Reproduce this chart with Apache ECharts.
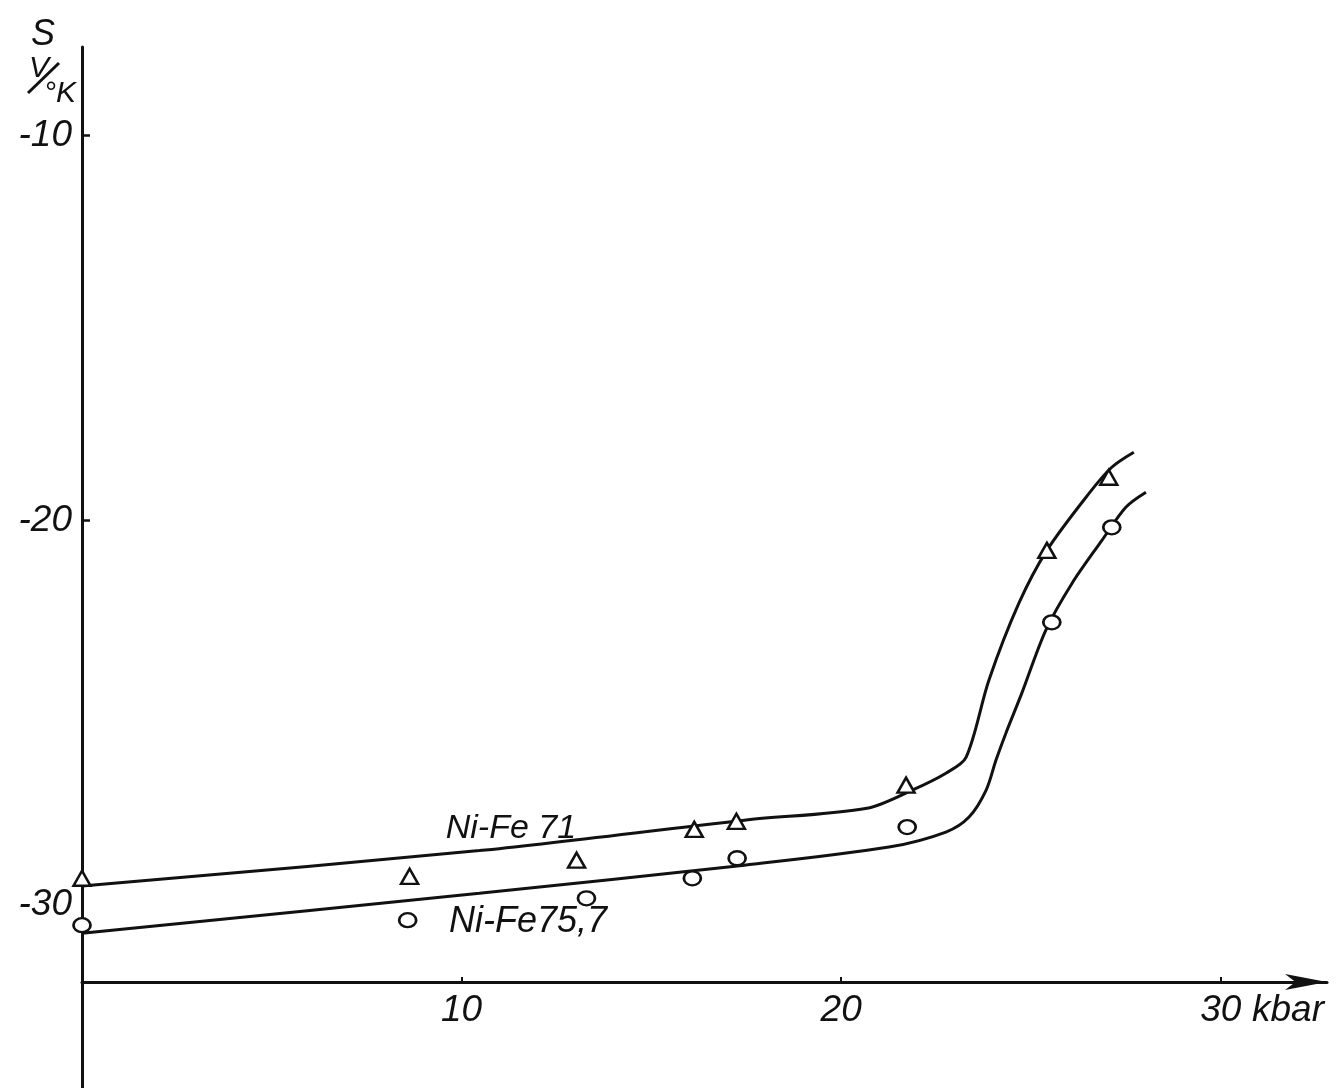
<!DOCTYPE html>
<html>
<head>
<meta charset="utf-8">
<script src="https://cdn.jsdelivr.net/npm/echarts@6/dist/echarts.min.js"></script>
<style>
  html, body { margin: 0; padding: 0; background: #ffffff; }
  #chart { width: 1340px; height: 1088px; }
</style>
</head>
<body>
<div id="chart"></div>
<script>
// Thermoelectric power S of Ni-Fe alloys versus pressure
const xTicks = [10, 20, 30];
const yTicks = [-30, -20, -10];

// Ni-Fe 71 — measured points (triangles)
const ni71PointsX = [0, 8.63, 13.03, 16.13, 17.24, 21.71, 25.42, 27.05];
const ni71PointsY = [-29.30, -29.25, -28.83, -28.03, -27.82, -26.88, -20.78, -18.88];
// Ni-Fe 71 — drawn curve
const ni71CurveX = [0, 10.47, 17.45, 20.68, 21.87, 22.76, 23.29, 23.89, 24.68, 25.42, 26.53, 27.13, 27.71];
const ni71CurveY = [-29.50, -28.58, -27.79, -27.48, -27.01, -26.57, -26.16, -24.16, -22.16, -20.78, -19.30, -18.62, -18.23];

// Ni-Fe 75,7 — measured points (circles)
const ni757PointsX = [0, 8.58, 13.29, 16.08, 17.26, 21.74, 25.55, 27.13];
const ni757PointsY = [-30.52, -30.39, -29.82, -29.30, -28.78, -27.97, -22.65, -20.18];
// Ni-Fe 75,7 — drawn curve
const ni757CurveX = [0, 10.47, 17.45, 21.26, 22.76, 23.37, 23.82, 24.08, 24.34, 24.76, 25.39, 26.08, 26.87, 27.50, 28.03];
const ni757CurveY = [-30.73, -29.69, -28.96, -28.49, -28.10, -27.71, -27.01, -26.23, -25.53, -24.49, -22.86, -21.64, -20.52, -19.66, -19.27];

const seriesNames = ['Ni-Fe 71', 'Ni-Fe75,7'];
const curveLabelAt = [[11.3, -28.0], [11.75, -30.44]];

const zip = (xs, ys) => xs.map((x, i) => [x, ys[i]]);
const INK = '#111111';
const FONT = '"Liberation Sans", "DejaVu Sans", sans-serif';

const chart = echarts.init(document.getElementById('chart'), null, { renderer: 'canvas' });

const curveStyle = { color: INK, width: 3 };

chart.setOption({
  backgroundColor: '#ffffff',
  animation: false,
  grid: { left: 82, right: 13, top: 47, bottom: 0, containLabel: false, outerBoundsMode: 'none' },
  xAxis: {
    type: 'value',
    min: 0,
    max: 32.8,
    position: 'bottom',
    offset: -106,
    splitLine: { show: false },
    axisLine: {
      show: true,
      onZero: false,
      symbol: ['none', 'arrow'],
      symbolSize: [12, 42],
      lineStyle: { color: INK, width: 3 }
    },
    axisTick: {
      show: true,
      customValues: xTicks,
      inside: true,
      length: 5,
      lineStyle: { color: INK, width: 2 }
    },
    axisLabel: {
      customValues: xTicks,
      margin: 10,
      color: INK,
      fontFamily: FONT,
      fontStyle: 'italic',
      fontSize: 37
    }
  },
  yAxis: {
    type: 'value',
    min: -34.75,
    max: -7.7,
    splitLine: { show: false },
    axisLine: { show: true, onZero: false, lineStyle: { color: INK, width: 3 } },
    axisTick: {
      show: true,
      customValues: [-20, -10],
      inside: true,
      length: 8,
      lineStyle: { color: INK, width: 2.5 }
    },
    axisLabel: {
      customValues: yTicks,
      margin: 10,
      color: INK,
      fontFamily: FONT,
      fontStyle: 'italic',
      fontSize: 37
    }
  },
  graphic: [
    { type: 'text', left: 31, top: 17, style: { text: 'S', fill: INK, font: 'italic 36px ' + FONT } },
    { type: 'text', left: 29, top: 54, style: { text: 'V', fill: INK, font: 'italic 30px ' + FONT } },
    { type: 'line', shape: { x1: 28, y1: 93, x2: 59, y2: 63 }, style: { stroke: INK, lineWidth: 3 } },
    { type: 'text', left: 44, top: 79, style: { text: '°K', fill: INK, font: 'italic 30px ' + FONT } },
    { type: 'text', left: 1252, top: 992, style: { text: 'kbar', fill: INK, font: 'italic 37px ' + FONT } }
  ],
  series: [
    {
      name: seriesNames[0],
      type: 'line',
      data: zip(ni71CurveX, ni71CurveY),
      smooth: 0.3,
      showSymbol: false,
      lineStyle: curveStyle,
      markPoint: {
        symbol: 'circle',
        symbolSize: 0,
        data: [{ coord: curveLabelAt[0] }],
        label: {
          show: true,
          position: 'inside',
          formatter: seriesNames[0],
          color: INK,
          fontFamily: FONT,
          fontStyle: 'italic',
          fontSize: 34
        }
      }
    },
    {
      name: seriesNames[1],
      type: 'line',
      data: zip(ni757CurveX, ni757CurveY),
      smooth: 0.3,
      showSymbol: false,
      lineStyle: curveStyle,
      markPoint: {
        symbol: 'circle',
        symbolSize: 0,
        data: [{ coord: curveLabelAt[1] }],
        label: {
          show: true,
          position: 'inside',
          formatter: seriesNames[1],
          color: INK,
          fontFamily: FONT,
          fontStyle: 'italic',
          fontSize: 36
        }
      }
    },
    {
      name: seriesNames[0] + ' points',
      type: 'scatter',
      data: zip(ni71PointsX, ni71PointsY),
      symbol: 'triangle',
      symbolSize: [17, 15],
      itemStyle: { color: '#ffffff', borderColor: INK, borderWidth: 2.5, opacity: 1 },
      z: 5
    },
    {
      name: seriesNames[1] + ' points',
      type: 'scatter',
      data: zip(ni757PointsX, ni757PointsY),
      symbol: 'circle',
      symbolSize: [17, 14],
      itemStyle: { color: '#ffffff', borderColor: INK, borderWidth: 2.5, opacity: 1 },
      z: 5
    }
  ]
});
</script>
</body>
</html>
